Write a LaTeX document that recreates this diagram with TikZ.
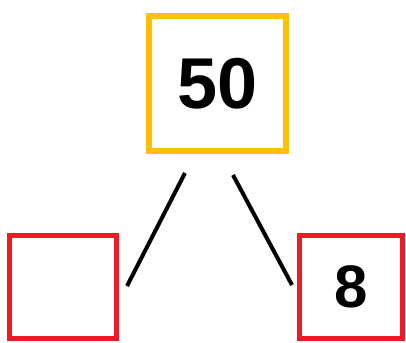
\documentclass[tikz,border=0pt]{standalone}
\usepackage{fontspec}
\setmainfont{Liberation Sans}
\definecolor{boxgold}{HTML}{FFC000}
\definecolor{boxred}{HTML}{ED1C24}
\begin{document}
\begin{tikzpicture}[x=1pt,y=-1pt,
  topbox/.style={draw=boxgold,line width=6pt,inner sep=0pt,minimum width=137pt,minimum height=135pt,font=\fontsize{72}{72}\selectfont\bfseries},
  leafbox/.style={draw=boxred,line width=5pt,inner sep=0pt,minimum width=103pt,minimum height=103pt,font=\fontsize{60}{60}\selectfont\bfseries},
  link/.style={line width=4pt,black}]
\useasboundingbox (0,0) rectangle (406,342);
\node[topbox] (top) at (217.5,83.5) {50};
\node[leafbox,minimum width=107pt] (left) at (63,287) {};
\node[leafbox] (right) at (351,287) {8};
\coordinate (la) at (185,173);
\coordinate (lb) at (127,286);
\coordinate (ra) at (233,175);
\coordinate (rb) at (292,285);
\draw[link] (la) -- (lb);
\draw[link] (ra) -- (rb);
\end{tikzpicture}
\end{document}
